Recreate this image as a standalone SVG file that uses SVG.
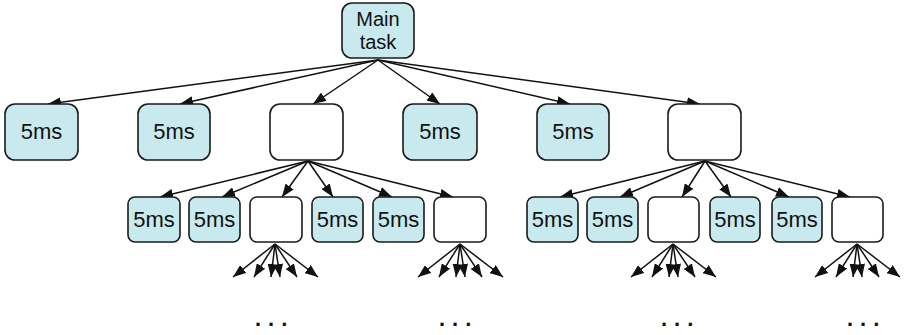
<svg xmlns="http://www.w3.org/2000/svg" width="905" height="335" viewBox="0 0 905 335">
<style>
.t{fill:#c8eaee;stroke:#1a1a1a;stroke-width:1.6}
.e{fill:#ffffff;stroke:#1a1a1a;stroke-width:1.6}
.lbl{font-family:"Liberation Sans",Arial,sans-serif;font-size:22px;fill:#111;text-anchor:middle}
.ml{font-family:"Liberation Sans",Arial,sans-serif;font-size:20px;fill:#111;text-anchor:middle}
.a{stroke:#111;stroke-width:1.5;fill:none;marker-end:url(#ah)}
.dots{font-family:"Liberation Sans",Arial,sans-serif;font-size:22px;font-weight:bold;fill:#111;letter-spacing:7px}
</style>
<defs>
<marker id="ah" markerUnits="userSpaceOnUse" markerWidth="13" markerHeight="10" refX="13" refY="5" orient="auto">
<path d="M0,0 L13,5 L0,10 z" fill="#111"/>
</marker>
</defs>
<g id="connectors">
<line class="a" x1="378" y1="60" x2="48" y2="104"/>
<line class="a" x1="378" y1="60" x2="180" y2="104"/>
<line class="a" x1="378" y1="60" x2="313" y2="104"/>
<line class="a" x1="378" y1="60" x2="440" y2="104"/>
<line class="a" x1="378" y1="60" x2="570" y2="104"/>
<line class="a" x1="378" y1="60" x2="700" y2="104"/>
<line class="a" x1="308" y1="161" x2="160" y2="197"/>
<line class="a" x1="308" y1="161" x2="222" y2="197"/>
<line class="a" x1="308" y1="161" x2="282" y2="197"/>
<line class="a" x1="308" y1="161" x2="333" y2="197"/>
<line class="a" x1="308" y1="161" x2="392" y2="197"/>
<line class="a" x1="308" y1="161" x2="453" y2="197"/>
<line class="a" x1="705" y1="161" x2="560" y2="197"/>
<line class="a" x1="705" y1="161" x2="620" y2="197"/>
<line class="a" x1="705" y1="161" x2="682" y2="197"/>
<line class="a" x1="705" y1="161" x2="731" y2="197"/>
<line class="a" x1="705" y1="161" x2="789" y2="197"/>
<line class="a" x1="705" y1="161" x2="850" y2="197"/>
<g id="fan1">
<line class="a" x1="275" y1="244" x2="233" y2="277"/>
<line class="a" x1="275" y1="244" x2="254" y2="277"/>
<line class="a" x1="275" y1="244" x2="271" y2="277"/>
<line class="a" x1="275" y1="244" x2="280" y2="277"/>
<line class="a" x1="275" y1="244" x2="297" y2="277"/>
<line class="a" x1="275" y1="244" x2="318" y2="277"/>
</g>
<g id="fan2">
<line class="a" x1="460" y1="244" x2="418" y2="277"/>
<line class="a" x1="460" y1="244" x2="439" y2="277"/>
<line class="a" x1="460" y1="244" x2="456" y2="277"/>
<line class="a" x1="460" y1="244" x2="465" y2="277"/>
<line class="a" x1="460" y1="244" x2="482" y2="277"/>
<line class="a" x1="460" y1="244" x2="503" y2="277"/>
</g>
<g id="fan3">
<line class="a" x1="673" y1="244" x2="631" y2="277"/>
<line class="a" x1="673" y1="244" x2="652" y2="277"/>
<line class="a" x1="673" y1="244" x2="669" y2="277"/>
<line class="a" x1="673" y1="244" x2="678" y2="277"/>
<line class="a" x1="673" y1="244" x2="695" y2="277"/>
<line class="a" x1="673" y1="244" x2="716" y2="277"/>
</g>
<g id="fan4">
<line class="a" x1="857" y1="244" x2="815" y2="277"/>
<line class="a" x1="857" y1="244" x2="836" y2="277"/>
<line class="a" x1="857" y1="244" x2="853" y2="277"/>
<line class="a" x1="857" y1="244" x2="862" y2="277"/>
<line class="a" x1="857" y1="244" x2="879" y2="277"/>
<line class="a" x1="857" y1="244" x2="900" y2="277"/>
</g>
</g>
<g id="main"><rect class="t" x="342" y="3" width="72" height="55" rx="10"/><text class="ml" x="378" y="26">Main</text><text class="ml" x="378" y="49">task</text></g>
<g id="l1a"><rect class="t" x="5" y="104" width="73" height="56" rx="10"/><text class="lbl" x="41.5" y="139">5ms</text></g>
<g id="l1b"><rect class="t" x="138" y="104" width="72" height="56" rx="10"/><text class="lbl" x="174" y="139">5ms</text></g>
<g id="l1c"><rect class="e" x="270" y="104" width="73" height="56" rx="10"/></g>
<g id="l1d"><rect class="t" x="403" y="104" width="74" height="56" rx="10"/><text class="lbl" x="440" y="139">5ms</text></g>
<g id="l1e"><rect class="t" x="537" y="104" width="72" height="56" rx="10"/><text class="lbl" x="573" y="139">5ms</text></g>
<g id="l1f"><rect class="e" x="668" y="104" width="73" height="56" rx="10"/></g>
<g id="l2a"><rect class="t" x="128" y="197" width="52" height="45" rx="7"/><text class="lbl" x="154" y="227">5ms</text></g>
<g id="l2b"><rect class="t" x="189" y="197" width="51" height="45" rx="7"/><text class="lbl" x="214.5" y="227">5ms</text></g>
<g id="l2c"><rect class="e" x="250" y="197" width="52" height="45" rx="7"/></g>
<g id="l2d"><rect class="t" x="312" y="197" width="51" height="45" rx="7"/><text class="lbl" x="337.5" y="227">5ms</text></g>
<g id="l2e"><rect class="t" x="373" y="197" width="51" height="45" rx="7"/><text class="lbl" x="398.5" y="227">5ms</text></g>
<g id="l2f"><rect class="e" x="434" y="197" width="52" height="45" rx="7"/></g>
<g id="r2a"><rect class="t" x="527" y="197" width="51" height="45" rx="7"/><text class="lbl" x="552.5" y="227">5ms</text></g>
<g id="r2b"><rect class="t" x="587" y="197" width="51" height="45" rx="7"/><text class="lbl" x="612.5" y="227">5ms</text></g>
<g id="r2c"><rect class="e" x="648" y="197" width="51" height="45" rx="7"/></g>
<g id="r2d"><rect class="t" x="710" y="197" width="50" height="45" rx="7"/><text class="lbl" x="735" y="227">5ms</text></g>
<g id="r2e"><rect class="t" x="772" y="197" width="50" height="45" rx="7"/><text class="lbl" x="797" y="227">5ms</text></g>
<g id="r2f"><rect class="e" x="832" y="197" width="51" height="45" rx="7"/></g>
<text class="dots" x="255" y="326">...</text>
<text class="dots" x="439" y="326">...</text>
<text class="dots" x="661" y="326">...</text>
<text class="dots" x="847" y="326">...</text>
</svg>
